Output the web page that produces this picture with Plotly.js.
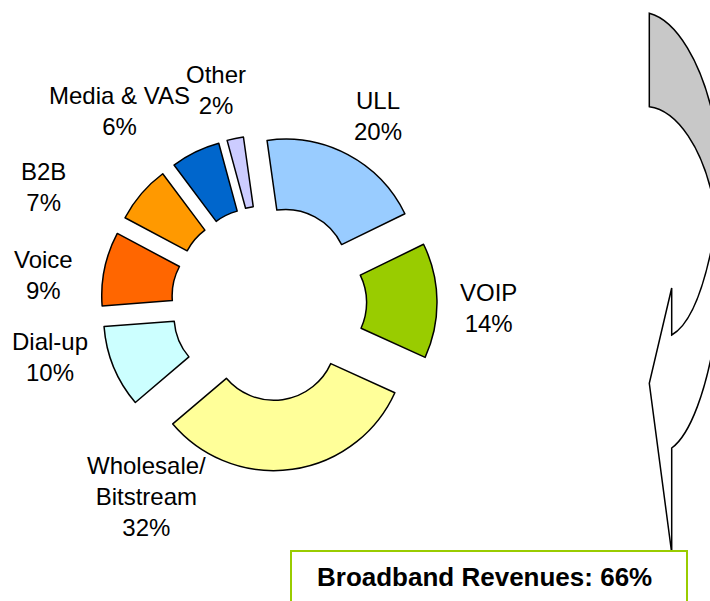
<!DOCTYPE html>
<html>
<head>
<meta charset="utf-8">
<script src="https://cdn.plot.ly/plotly-3.0.1.min.js"></script>
<style>html,body{margin:0;padding:0;background:#fff;}#chart{width:710px;height:601px;}</style>
</head>
<body>
<div id="chart"></div>
<script>
// ---- data ----
var labels = ['ULL', 'VOIP', 'Wholesale/<br>Bitstream', 'Dial-up', 'Voice', 'B2B', 'Media & VAS', 'Other'];
var values = [20, 14, 32, 10, 9, 7, 6, 2];
var colors = ['#99CCFF', '#99CC00', '#FFFF99', '#CCFFFF', '#FF6600', '#FF9900', '#0066CC', '#CCCCFF'];
var broadbandIdx = [0, 1, 2];

// ---- layout helpers ----
var W = 710, H = 601;
var labelPos = [[378, 116], [488, 308], [146, 496], [50, 357], [43, 275], [43, 187], [119, 111], [216, 90]];
function px(x, y) { return (x / W).toFixed(5) + ',' + (1 - y / H).toFixed(5); }

var total = values.reduce(function (a, b) { return a + b; }, 0);
var annotations = labels.map(function (l, i) {
  return {
    xref: 'paper', yref: 'paper',
    x: labelPos[i][0] / W, y: 1 - labelPos[i][1] / H,
    xanchor: 'center', yanchor: 'middle',
    text: l + '<br>' + Math.round(values[i] / total * 100) + '%',
    showarrow: false,
    font: {family: 'Liberation Sans, Arial, sans-serif', size: 24, color: '#000'}
  };
});
var bb = broadbandIdx.reduce(function (a, i) { return a + values[i]; }, 0);
annotations.push({
  xref: 'paper', yref: 'paper', x: 484 / W, y: 1 - 577 / H,
  xanchor: 'center', yanchor: 'middle', showarrow: false,
  text: '<b>Broadband Revenues: ' + Math.round(bb / total * 100) + '%</b>',
  font: {family: 'Liberation Sans, Arial, sans-serif', size: 26, color: '#000'}
});

var greyPath = 'M' + px(649.3, 13.3) + ' C' + px(675, 20) + ' ' + px(703, 60) + ' ' + px(716, 130) +
  ' L' + px(716, 215) + ' C' + px(705, 145) + ' ' + px(675, 110) + ' ' + px(649.3, 106.7) + ' Z';
var frontPath = 'M' + px(716, 225) + ' C' + px(705, 290) + ' ' + px(690, 325) + ' ' + px(671.7, 335) +
  ' L' + px(671.7, 288) + ' L' + px(649.3, 383.3) + ' L' + px(671.7, 553) + ' L' + px(671.7, 448) +
  ' C' + px(690, 435) + ' ' + px(707, 390) + ' ' + px(716, 330);

var shapes = [
  {type: 'path', xref: 'paper', yref: 'paper', path: greyPath, fillcolor: '#C8C8C8', line: {color: '#000', width: 1.5}},
  {type: 'path', xref: 'paper', yref: 'paper', path: frontPath, fillcolor: 'rgba(0,0,0,0)', line: {color: '#000', width: 1.5}},
  {type: 'rect', xref: 'paper', yref: 'paper', x0: 291 / W, x1: 687 / W, y0: 1 - 640 / H, y1: 1 - 551 / H,
   fillcolor: '#fff', line: {color: '#99CC00', width: 2}}
];

var trace = {
  type: 'pie',
  labels: labels,
  values: values,
  sort: false,
  direction: 'clockwise',
  rotation: -8,
  hole: 0.47,
  pull: 0.265,
  textinfo: 'none',
  hoverinfo: 'label+percent',
  marker: {colors: colors, line: {color: '#000', width: 1.5}},
  domain: {x: [101 / W, 437 / W], y: [1 - 471 / H, 1 - 135 / H]},
  showlegend: false
};

Plotly.newPlot('chart', [trace], {
  width: W, height: H,
  margin: {l: 0, r: 0, t: 0, b: 0},
  paper_bgcolor: '#fff', plot_bgcolor: '#fff',
  showlegend: false,
  annotations: annotations,
  shapes: shapes
}, {displayModeBar: false, staticPlot: true});
</script>
</body>
</html>
